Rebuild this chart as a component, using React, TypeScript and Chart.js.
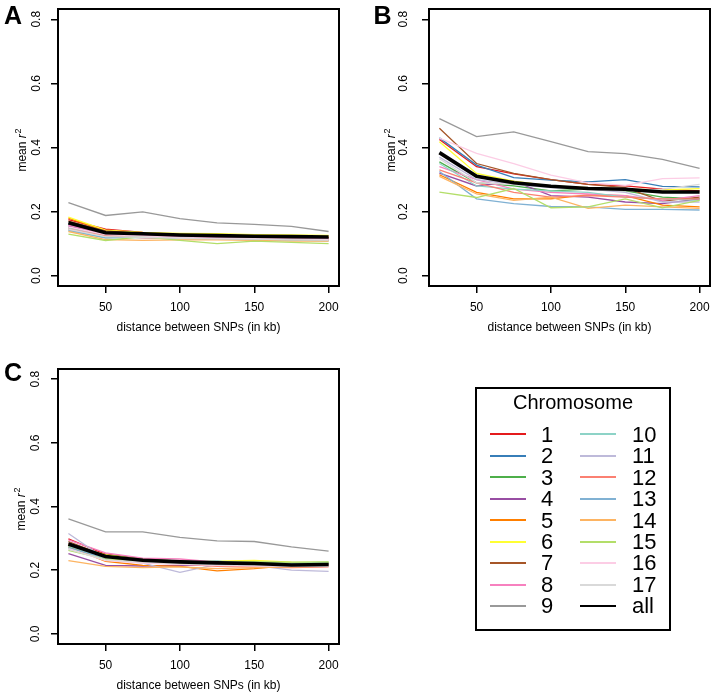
import React, { useEffect, useRef } from "react";
import { Chart, registerables } from "chart.js";

Chart.register(...registerables);

const FONT = "'Liberation Sans', Arial, Helvetica, sans-serif";

// ---------- data ----------
const distances = [25, 50, 75, 100, 125, 150, 175, 200];
const xTickValues = [50, 100, 150, 200];
const yTickValues = [0, 0.2, 0.4, 0.6, 0.8];
const xAxisTitle = "distance between SNPs (in kb)";
const legendTitle = "Chromosome";

const chromosomes = ["1", "2", "3", "4", "5", "6", "7", "8", "9", "10", "11", "12", "13", "14", "15", "16", "17"];
const chromColors = [
  "#E41A1C", "#377EB8", "#4DAF4A", "#984EA3", "#FF7F00", "#FFFF33", "#A65628", "#F781BF", "#999999",
  "#8DD3C7", "#BEBADA", "#FB8072", "#80B1D3", "#FDB462", "#B3DE69", "#FCCDE5", "#D9D9D9",
];

// Panel A: one row per chromosome (1..17)
const panelA = [
  [0.175, 0.145, 0.135, 0.128, 0.125, 0.122, 0.120, 0.118],
  [0.160, 0.128, 0.128, 0.124, 0.122, 0.120, 0.119, 0.118],
  [0.150, 0.125, 0.130, 0.125, 0.120, 0.118, 0.115, 0.112],
  [0.155, 0.130, 0.125, 0.120, 0.118, 0.116, 0.115, 0.113],
  [0.180, 0.140, 0.133, 0.130, 0.128, 0.125, 0.122, 0.120],
  [0.183, 0.142, 0.135, 0.132, 0.131, 0.128, 0.127, 0.126],
  [0.170, 0.140, 0.132, 0.127, 0.124, 0.121, 0.120, 0.119],
  [0.158, 0.130, 0.126, 0.120, 0.118, 0.117, 0.116, 0.115],
  [0.228, 0.188, 0.199, 0.178, 0.165, 0.160, 0.154, 0.138],
  [0.140, 0.118, 0.122, 0.118, 0.115, 0.113, 0.112, 0.110],
  [0.148, 0.125, 0.120, 0.116, 0.114, 0.113, 0.112, 0.110],
  [0.145, 0.125, 0.118, 0.116, 0.115, 0.114, 0.113, 0.112],
  [0.142, 0.118, 0.120, 0.117, 0.114, 0.113, 0.111, 0.109],
  [0.138, 0.113, 0.110, 0.112, 0.112, 0.110, 0.108, 0.108],
  [0.130, 0.110, 0.122, 0.110, 0.100, 0.108, 0.104, 0.100],
  [0.152, 0.128, 0.124, 0.119, 0.117, 0.116, 0.115, 0.113],
  [0.145, 0.122, 0.120, 0.117, 0.115, 0.114, 0.112, 0.111],
];
const allA = [0.165, 0.134, 0.131, 0.127, 0.125, 0.123, 0.122, 0.121];

const panelB = [
  [0.425, 0.340, 0.318, 0.300, 0.285, 0.280, 0.270, 0.265],
  [0.430, 0.345, 0.306, 0.298, 0.293, 0.300, 0.279, 0.277],
  [0.355, 0.290, 0.280, 0.265, 0.270, 0.265, 0.245, 0.240],
  [0.320, 0.280, 0.295, 0.250, 0.245, 0.230, 0.225, 0.240],
  [0.315, 0.260, 0.240, 0.240, 0.252, 0.250, 0.220, 0.215],
  [0.418, 0.319, 0.295, 0.280, 0.275, 0.270, 0.268, 0.272],
  [0.460, 0.350, 0.319, 0.300, 0.285, 0.275, 0.233, 0.245],
  [0.340, 0.300, 0.270, 0.260, 0.255, 0.250, 0.235, 0.250],
  [0.490, 0.434, 0.449, 0.418, 0.387, 0.381, 0.363, 0.335],
  [0.350, 0.280, 0.270, 0.265, 0.260, 0.245, 0.240, 0.235],
  [0.370, 0.300, 0.285, 0.275, 0.270, 0.260, 0.230, 0.230],
  [0.330, 0.290, 0.260, 0.245, 0.250, 0.245, 0.240, 0.240],
  [0.325, 0.240, 0.225, 0.216, 0.215, 0.207, 0.207, 0.205],
  [0.310, 0.255, 0.235, 0.245, 0.210, 0.220, 0.215, 0.210],
  [0.261, 0.244, 0.272, 0.212, 0.215, 0.240, 0.212, 0.235],
  [0.429, 0.382, 0.350, 0.314, 0.290, 0.282, 0.303, 0.305],
  [0.365, 0.290, 0.285, 0.278, 0.270, 0.265, 0.270, 0.285],
];
const allB = [0.384, 0.310, 0.290, 0.279, 0.272, 0.270, 0.261, 0.261];

const panelC = [
  [0.298, 0.250, 0.235, 0.228, 0.224, 0.222, 0.215, 0.215],
  [0.285, 0.245, 0.232, 0.225, 0.226, 0.222, 0.218, 0.220],
  [0.270, 0.248, 0.235, 0.228, 0.225, 0.225, 0.222, 0.222],
  [0.252, 0.215, 0.213, 0.215, 0.215, 0.213, 0.210, 0.212],
  [0.275, 0.228, 0.215, 0.212, 0.198, 0.205, 0.215, 0.215],
  [0.280, 0.248, 0.233, 0.226, 0.228, 0.231, 0.225, 0.224],
  [0.290, 0.245, 0.230, 0.224, 0.222, 0.220, 0.218, 0.218],
  [0.295, 0.254, 0.238, 0.235, 0.225, 0.220, 0.215, 0.215],
  [0.361, 0.320, 0.320, 0.303, 0.292, 0.290, 0.273, 0.260],
  [0.275, 0.240, 0.230, 0.222, 0.228, 0.223, 0.222, 0.225],
  [0.315, 0.235, 0.222, 0.193, 0.218, 0.215, 0.200, 0.196],
  [0.285, 0.242, 0.225, 0.220, 0.212, 0.210, 0.208, 0.210],
  [0.270, 0.238, 0.228, 0.225, 0.228, 0.218, 0.218, 0.220],
  [0.230, 0.212, 0.208, 0.210, 0.205, 0.208, 0.210, 0.212],
  [0.262, 0.235, 0.230, 0.222, 0.224, 0.227, 0.225, 0.226],
  [0.268, 0.230, 0.222, 0.218, 0.215, 0.213, 0.212, 0.212],
  [0.265, 0.232, 0.225, 0.220, 0.217, 0.215, 0.212, 0.213],
];
const allC = [0.282, 0.243, 0.231, 0.226, 0.223, 0.221, 0.216, 0.218];

// ---------- layout ----------
type Panel = {
  letter: string;
  series: number[][];
  all: number[];
  left: number; top: number; width: number; height: number;
  padTop: number; padRight: number;
  yAxisWidth: number; xAxisHeight: number;
  yTickPad: number; xTitlePad: number;
  yTitleX: number; letterX: number; letterY: number;
};

const panels: Panel[] = [
  { letter: "A", series: panelA, all: allA, left: 0, top: 0, width: 357, height: 345,
    padTop: 9, padRight: 18, yAxisWidth: 58, xAxisHeight: 59, yTickPad: 6, xTitlePad: 10.5,
    yTitleX: 25.5, letterX: 4, letterY: 24 },
  { letter: "B", series: panelB, all: allB, left: 357, top: 0, width: 358, height: 345,
    padTop: 9, padRight: 5, yAxisWidth: 72, xAxisHeight: 59, yTickPad: 10, xTitlePad: 10.5,
    yTitleX: 38, letterX: 16.5, letterY: 24 },
  { letter: "C", series: panelC, all: allC, left: 0, top: 345, width: 357, height: 351,
    padTop: 24, padRight: 18, yAxisWidth: 58, xAxisHeight: 52, yTickPad: 6.5, xTitlePad: 2.8,
    yTitleX: 25, letterX: 4, letterY: 36 },
];

const decorPlugin = {
  id: "panelDecor",
  afterDraw(chart: any, _args: any, opts: any) {
    const { ctx, chartArea } = chart;
    const { left, top, right, bottom } = chartArea;
    ctx.save();
    ctx.strokeStyle = "#000";
    ctx.lineWidth = 2;
    ctx.strokeRect(left, top, right - left, bottom - top);

    // panel letter
    ctx.fillStyle = "#000";
    ctx.font = `bold 25px ${FONT}`;
    ctx.textBaseline = "alphabetic";
    ctx.textAlign = "left";
    ctx.fillText(opts.letter, opts.letterX, opts.letterY);

    // y-axis title: mean r^2 (italic r, superscript 2)
    const cy = (top + bottom) / 2 + 2.5;
    ctx.translate(opts.yTitleX, cy);
    ctx.rotate(-Math.PI / 2);
    const f1 = `12px ${FONT}`;
    const f2 = `italic 12px ${FONT}`;
    const f3 = `9px ${FONT}`;
    ctx.font = f1; const w1 = ctx.measureText("mean ").width;
    ctx.font = f2; const w2 = ctx.measureText("r").width;
    ctx.font = f3; const w3 = ctx.measureText("2").width;
    const total = w1 + w2 + 0.8 + w3;
    let x = -total / 2;
    ctx.font = f1; ctx.fillText("mean ", x, 0); x += w1;
    ctx.font = f2; ctx.fillText("r", x, 0); x += w2 + 0.8;
    ctx.font = f3; ctx.fillText("2", x, -5);
    ctx.restore();
  },
};

function buildChart(canvas: HTMLCanvasElement, p: Panel) {
  const datasets: any[] = p.series.map((vals, i) => ({
    label: chromosomes[i],
    data: distances.map((d, j) => ({ x: d, y: vals[j] })),
    borderColor: chromColors[i],
    backgroundColor: chromColors[i],
    borderWidth: 1.3,
    pointRadius: 0,
    tension: 0,
    fill: false,
    order: 30 - i,
  }));
  datasets.push({
    label: "all",
    data: distances.map((d, j) => ({ x: d, y: p.all[j] })),
    borderColor: "#000",
    backgroundColor: "#000",
    borderWidth: 3.6,
    pointRadius: 0,
    tension: 0,
    fill: false,
    order: 0,
  });

  const tickFont = { size: 12, family: FONT };
  return new Chart(canvas, {
    type: "line",
    data: { datasets },
    options: {
      animation: false,
      responsive: false,
      devicePixelRatio: 1,
      events: [],
      layout: { padding: { left: 0, top: p.padTop, right: p.padRight, bottom: 0 } },
      plugins: {
        legend: { display: false },
        tooltip: { enabled: false },
        panelDecor: { letter: p.letter, letterX: p.letterX, letterY: p.letterY, yTitleX: p.yTitleX },
      } as any,
      scales: {
        x: {
          type: "linear",
          min: 18,
          max: 207,
          afterBuildTicks: (s: any) => { s.ticks = xTickValues.map((v) => ({ value: v })); },
          afterFit: (s: any) => {
            s.height = p.xAxisHeight;
            s.paddingLeft = 0; s.paddingRight = 0; s.paddingTop = 0; s.paddingBottom = 0;
          },
          grid: { drawOnChartArea: false, drawTicks: true, tickLength: 7, color: "#000", lineWidth: 1.5 },
          border: { display: false },
          ticks: {
            color: "#000", font: tickFont, padding: 7, maxRotation: 0, minRotation: 0, autoSkip: false,
            callback: (v: any) => String(v),
          },
          title: {
            display: true, text: xAxisTitle, color: "#000", font: tickFont,
            padding: { top: 0, bottom: p.xTitlePad },
          },
        },
        y: {
          type: "linear",
          min: -0.032,
          max: 0.832,
          afterBuildTicks: (s: any) => { s.ticks = yTickValues.map((v) => ({ value: v })); },
          afterFit: (s: any) => {
            s.width = p.yAxisWidth;
            s.paddingLeft = 0; s.paddingRight = 0; s.paddingTop = 0; s.paddingBottom = 0;
          },
          grid: { drawOnChartArea: false, drawTicks: true, tickLength: 7, color: "#000", lineWidth: 1.5 },
          border: { display: false },
          ticks: {
            color: "#000", font: tickFont, padding: p.yTickPad, minRotation: 90, maxRotation: 90,
            crossAlign: "center", autoSkip: false,
            callback: (v: any) => Number(v).toFixed(1),
          },
        },
      },
    } as any,
    plugins: [decorPlugin],
  });
}

function PanelChart({ p }: { p: Panel }) {
  const ref = useRef<HTMLCanvasElement>(null);
  useEffect(() => {
    if (!ref.current) return;
    const chart = buildChart(ref.current, p);
    return () => chart.destroy();
  }, [p]);
  return (
    <canvas
      ref={ref}
      width={p.width}
      height={p.height}
      style={{ position: "absolute", left: p.left, top: p.top, width: p.width, height: p.height }}
    />
  );
}

function Legend() {
  const rowPitch = 21.46;
  const firstLineY = 434.3;
  const numSize = 22;
  const items = [...chromosomes.map((c, i) => ({ label: c, color: chromColors[i] })), { label: "all", color: "#000" }];
  return (
    <div style={{ position: "absolute", left: 0, top: 0, width: 715, height: 696, pointerEvents: "none" }}>
      <div style={{ position: "absolute", left: 475, top: 387, width: 196, height: 244, boxSizing: "border-box", border: "2px solid #000" }} />
      <div style={{ position: "absolute", left: 475, width: 196, top: 391.6, textAlign: "center", fontFamily: FONT, fontSize: 20, lineHeight: "20px", whiteSpace: "nowrap" }}>
        {legendTitle}
      </div>
      {items.map((it, idx) => {
        const col = idx < 9 ? 0 : 1;
        const row = idx % 9;
        const ly = firstLineY + row * rowPitch;
        const lineX = col === 0 ? 490 : 580;
        const textX = col === 0 ? 541 : 632;
        return (
          <React.Fragment key={it.label}>
            <div style={{ position: "absolute", left: lineX, top: ly - 1, width: 36, height: 2, background: it.color }} />
            <div style={{ position: "absolute", left: textX, top: ly + 8 - 0.8465 * numSize, fontFamily: FONT, fontSize: numSize, lineHeight: `${numSize}px`, whiteSpace: "nowrap" }}>
              {it.label}
            </div>
          </React.Fragment>
        );
      })}
    </div>
  );
}

export default function App() {
  return (
    <div style={{ position: "absolute", left: 0, top: 0, width: 715, height: 696, background: "#fff", overflow: "hidden" }}>
      {panels.map((p) => <PanelChart key={p.letter} p={p} />)}
      <Legend />
    </div>
  );
}
